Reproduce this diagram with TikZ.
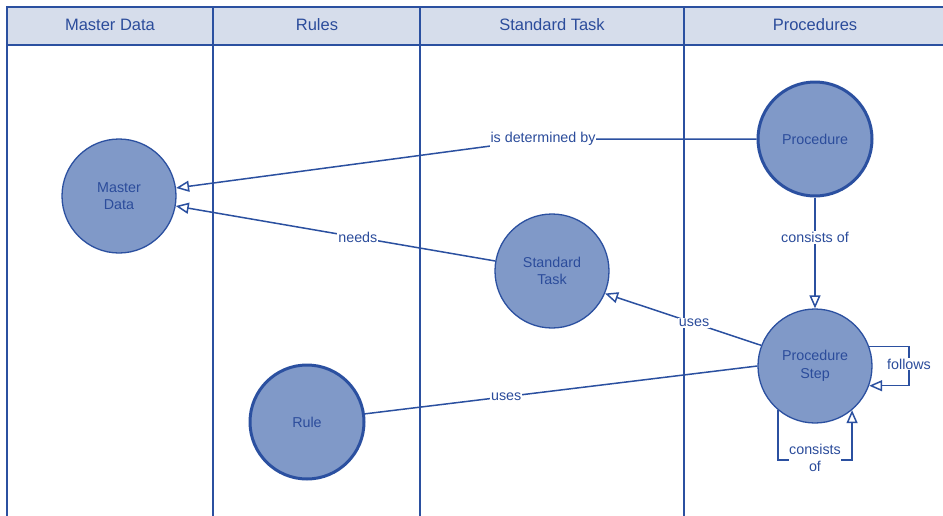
\documentclass[tikz,border=0pt]{standalone}
\usepackage{fontspec}
\setmainfont{Liberation Sans}
\usetikzlibrary{arrows.meta}
\definecolor{ln}{HTML}{2B50A0}
\definecolor{tx}{HTML}{2B4C9B}
\definecolor{cf}{HTML}{8099C8}
\definecolor{hd}{HTML}{D6DDEB}
\tikzset{
  circ/.style={circle,minimum size=114pt,inner sep=0pt,fill=cf,draw=ln,line width=1.3pt,text=tx,align=center,font=\fontsize{14.3}{17.5}\selectfont},
  thickcirc/.style={circ,line width=3pt},
  hdtext/.style={text=tx,font=\fontsize{16.5}{20}\selectfont},
  lbl/.style={fill=white,inner sep=1pt,text=tx,align=center,font=\fontsize{14.3}{17.5}\selectfont},
  edge/.style={draw=ln,line width=1.5pt},
  arr/.style={edge,-{Triangle[open,length=13pt,width=11pt]}},
  lane/.style={draw=ln,line width=1.5pt}
}
\begin{document}
\begin{tikzpicture}[x=1pt,y=-1pt]
\useasboundingbox (0,0) rectangle (943,515);
\fill[white] (0,0) rectangle (943,515);
% header and lanes
\draw[lane,fill=hd] (7,7) rectangle (960,45);
\foreach \x in {7,213,420,684} \draw[lane] (\x,7) -- (\x,530);
\node[hdtext] (h1) at (110,25) {Master Data};
\node[hdtext] (h2) at (317,25) {Rules};
\node[hdtext] (h3) at (552,25) {Standard Task};
\node[hdtext] (h4) at (815,25) {Procedures};
% nodes
\node[circ] (md) at (119,196) {Master\\Data};
\node[circ] (st) at (552,271) {Standard\\Task};
\node[thickcirc] (pr) at (815,139) {Procedure};
\node[circ] (ps) at (815,366) {Procedure\\Step};
\node[thickcirc] (ru) at (307,422) {Rule};
% edges
\coordinate (bend) at (543,139);
\draw[arr] (pr.west) -- (bend) -- (md.8);
\node[lbl] (l1) at (bend) {is determined by};
\draw[arr] (st.170) -- node[lbl,pos=0.43] (l2) {needs} (md.-10);
\draw[arr] (pr.south) -- node[lbl,pos=0.36] (l3) {consists of} (ps.north);
\draw[arr] (ps.159) -- node[lbl,pos=0.43] (l4) {uses} (st.-23);
\draw[edge] (ps.180) -- node[lbl,pos=0.64] (l5) {uses} (ru.8);
\draw[arr] (ps.20) -- (ps.20 -| 909,0) -- (ps.-20 -| 909,0) -- (ps.-20);
\node[lbl] (l6) at (909,364) {follows};
\draw[arr] (ps.-130) -- (ps.-130 |- 0,460) -- (ps.-50 |- 0,460) -- (ps.-50);
\node[lbl,inner sep=0.5pt] (l7) at (815,458) {consists\\of};
\end{tikzpicture}
\end{document}
